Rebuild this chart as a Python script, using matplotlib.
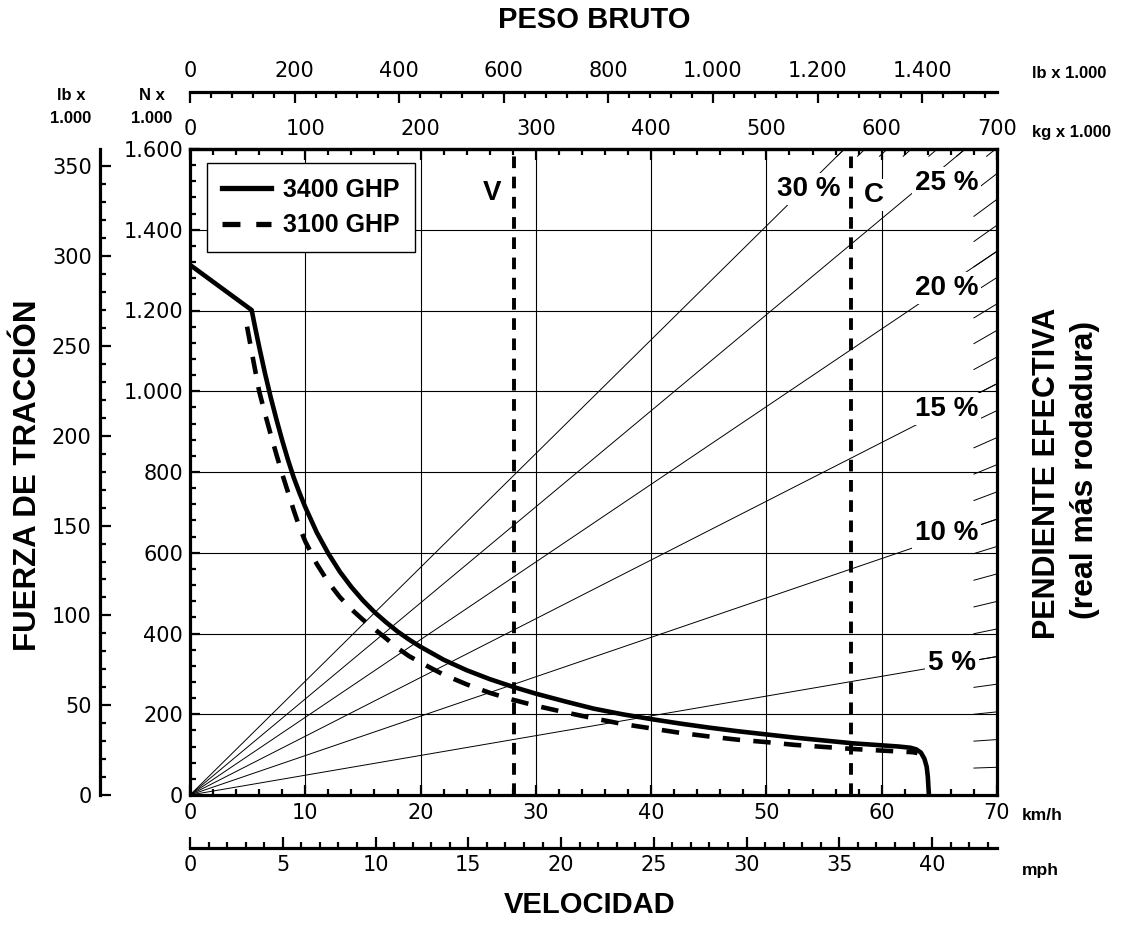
import numpy as np
import matplotlib
matplotlib.use("Agg")
import matplotlib.pyplot as plt
from matplotlib.ticker import FixedLocator, FuncFormatter
from matplotlib.lines import Line2D

plt.rcParams['font.family'] = ['DejaVu Sans']
NEGRITA = ['Liberation Sans', 'DejaVu Sans']

# Curva 3400 GHP: velocidad (km/h) y fuerza de traccion (kN)
vel_3400 = [0, 5.35, 5.6, 6.0, 6.5, 7.0, 7.5, 8.0, 8.5, 9.0, 9.5, 10.0,
            11.0, 12.0, 13.0, 14.0, 15.0, 16.0, 17.0, 18.0, 19.0, 20.0,
            22.0, 24.0, 26.0, 28.0, 30.0, 32.5, 35.0, 37.5, 40.0, 42.5,
            45.0, 47.5, 50.0, 52.5, 55.0, 57.5, 60.0, 61.5, 62.5, 63.0,
            63.4, 63.7, 63.9, 64.0, 64.05, 64.1]
fuerza_3400 = [1313, 1201, 1165, 1110, 1045, 985, 930, 878, 830, 786, 748, 713,
               650, 598, 553, 515, 482, 453, 428, 405, 385, 367,
               335, 309, 287, 268, 251, 232, 214, 200, 188, 177,
               167, 158, 150, 142, 135, 128, 123, 120, 117, 113,
               105, 90, 70, 45, 20, 0]

# Curva 3100 GHP
vel_3100 = [4.95, 5.5, 6.0, 6.5, 7.0, 7.5, 8.0, 8.5, 9.0, 9.5, 10.0,
            11.0, 12.0, 13.0, 14.0, 15.0, 16.0, 17.0, 18.0, 19.0, 20.0,
            22.0, 24.0, 26.0, 28.0, 30.0, 32.5, 35.0, 37.5, 40.0, 42.5,
            45.0, 47.5, 50.0, 52.5, 55.0, 57.5, 60.0, 62.7, 63.1]
fuerza_3100 = [1160, 1075, 1000, 945, 893, 843, 795, 750, 705, 663, 628,
               572, 527, 490, 460, 434, 411, 388, 364, 344, 328,
               298, 274, 253, 236, 221, 205, 190, 176, 165, 154,
               145, 137, 131, 124, 119, 114, 110, 106, 104]

# Pendientes (%)
pendientes_linea = [5, 10, 15, 20, 25, 30]
pendientes_marca = list(range(1, 31))
# posicion de las etiquetas (km/h, kN)
etiq_pend_x = [66.1, 65.6, 65.6, 65.6, 65.6, 53.7]
etiq_pend_y = [327, 649, 956, 1256, 1516, 1501]

# Peso bruto vacio (V) y cargado (C), toneladas
peso_v = 281
peso_c = 573

# marcas de los ejes secundarios
marcas_lb_fuerza = [0, 50, 100, 150, 200, 250, 300, 350]
marcas_kg = [0, 100, 200, 300, 400, 500, 600, 700]
marcas_lb_peso = [0, 200, 400, 600, 800, 1000, 1200, 1400]
marcas_mph = [0, 5, 10, 15, 20, 25, 30, 35, 40]

W, H = 1129, 935
fig = plt.figure(figsize=(W / 100, H / 100), dpi=100)
ax = fig.add_axes([190 / W, 1 - 795 / H, 807 / W, 646 / H])
ax.set_xlim(0, 70)
ax.set_ylim(0, 1600)

miles = FuncFormatter(lambda v, p: f"{v:,.0f}".replace(",", "."))
TL = 15

# ejes principales
ax.xaxis.set_major_locator(FixedLocator(np.arange(0, 71, 10)))
ax.xaxis.set_minor_locator(FixedLocator(np.arange(0, 71, 2)))
ax.yaxis.set_major_locator(FixedLocator(np.arange(0, 1601, 200)))
ax.yaxis.set_minor_locator(FixedLocator(np.arange(0, 1601, 40)))
ax.yaxis.set_major_formatter(miles)
ax.tick_params(which='both', direction='in', top=False, right=False,
               width=1.6, labelsize=TL)
ax.tick_params(which='major', length=7)
ax.tick_params(which='minor', length=4)
ax.tick_params(axis='x', pad=6)
ax.tick_params(axis='y', pad=5)
for s in ax.spines.values():
    s.set_linewidth(2.3)
ax.grid(True, which='major', color='black', lw=0.8)
ax.set_axisbelow(True)

# eje secundario lb x 1000
sec_lb = ax.secondary_yaxis(-90 / 807, functions=(lambda v: v / 4.44822,
                                                   lambda v: v * 4.44822))
sec_lb.yaxis.set_major_locator(FixedLocator(marcas_lb_fuerza))
sec_lb.yaxis.set_minor_locator(FixedLocator(np.arange(0, 360, 10)))

# eje superior kg x 1000
sec_kg = ax.secondary_xaxis('top', functions=(lambda v: v * 10, lambda v: v / 10))
sec_kg.xaxis.set_major_locator(FixedLocator(marcas_kg))
sec_kg.xaxis.set_minor_locator(FixedLocator(np.arange(0, 701, 20)))

# eje superior lb x 1000
sec_lbw = ax.secondary_xaxis(1 + (795 - 92 - 646) / 646,
                             functions=(lambda v: v * 10 * 2.20462,
                                        lambda v: v / 10 / 2.20462))
sec_lbw.xaxis.set_major_locator(FixedLocator(marcas_lb_peso))
sec_lbw.xaxis.set_minor_locator(FixedLocator(np.arange(0, 1541, 40)))
sec_lbw.xaxis.set_major_formatter(miles)

# eje inferior mph
sec_mph = ax.secondary_xaxis(-(848 - 795) / 646,
                             functions=(lambda v: v / 1.609344,
                                        lambda v: v * 1.609344))
sec_mph.xaxis.set_major_locator(FixedLocator(marcas_mph))
sec_mph.xaxis.set_minor_locator(FixedLocator(np.arange(0, 44, 1)))

for sa in (sec_lb, sec_kg, sec_lbw, sec_mph):
    sa.tick_params(which='both', direction='in', width=1.6, labelsize=TL)
    sa.tick_params(which='major', length=8)
    sa.tick_params(which='minor', length=4)
    for s in sa.spines.values():
        s.set_linewidth(2.3)
sec_lb.tick_params(pad=6)
sec_kg.tick_params(pad=7)
sec_lbw.tick_params(pad=8)
sec_mph.tick_params(pad=5)

# lineas de pendiente efectiva: F = m g sen(atan(p))
G = 9.81
for p in pendientes_linea:
    k = G * np.sin(np.arctan(p / 100))  # kN por tonelada
    w_fin = min(700, 1600 / k)
    ax.plot([0, w_fin / 10], [0, k * w_fin], color='black', lw=0.7, zorder=2)
for p in pendientes_marca:
    k = G * np.sin(np.arctan(p / 100))
    if k * 700 < 1600:
        ws = np.array([680, 700])
    else:
        ws = np.array([1582 / k, 1600 / k])
    ax.plot(ws / 10, k * ws, color='black', lw=0.7, zorder=2)

# lineas V y C
for w in (peso_v, peso_c):
    ax.axvline(w / 10, color='black', lw=2.8, ls=(0, (3.0, 2.2)), zorder=3)

# curvas
ax.plot(vel_3400, fuerza_3400, color='black', lw=3.3, solid_capstyle='butt',
        solid_joinstyle='round', zorder=5)
ax.plot(vel_3100, fuerza_3100, color='black', lw=3.3, ls=(0, (3.8, 2.9)),
        zorder=5)

caja = dict(facecolor='white', edgecolor='none', pad=2)
for p, x, y in zip(pendientes_linea, etiq_pend_x, etiq_pend_y):
    ax.text(x, y, f"{p} %", ha='center', va='center', fontsize=20,
            fontweight='bold', family=NEGRITA, bbox=caja, zorder=4)
ax.text(26.2, 1491, 'V', ha='center', va='center', fontsize=20,
        fontweight='bold', family=NEGRITA, bbox=caja, zorder=4)
ax.text(59.3, 1486, 'C', ha='center', va='center', fontsize=20,
        fontweight='bold', family=NEGRITA, bbox=caja, zorder=4)

# leyenda
h1 = Line2D([], [], color='black', lw=3.8)
h2 = Line2D([], [], color='black', lw=3.8, ls=(0, (3.4, 3.0)))
leg = ax.legend([h1, h2], ['3400 GHP', '3100 GHP'], loc='upper left',
                bbox_to_anchor=(207 / W, 1 - 163 / H),
                bbox_transform=fig.transFigure, borderaxespad=0,
                prop={'family': NEGRITA, 'weight': 'bold', 'size': 18},
                handlelength=1.95, handletextpad=0.5, labelspacing=0.45,
                borderpad=0.6, fancybox=False, framealpha=1, edgecolor='black')
leg.get_frame().set_linewidth(1.0)
leg.set_zorder(10)


def ftexto(x, y, s, **kw):
    fig.text(x / W, 1 - y / H, s, family=NEGRITA, fontweight='bold', **kw)


ftexto(594, 20, 'PESO BRUTO', fontsize=21, ha='center', va='center')
ftexto(590, 905, 'VELOCIDAD', fontsize=21, ha='center', va='center')
ftexto(28, 475, 'FUERZA DE TRACCIÓN', fontsize=22.5, ha='center', va='center',
       rotation=90)
ftexto(1047, 473, 'PENDIENTE EFECTIVA', fontsize=22, ha='center', va='center',
       rotation=90)
ftexto(1085, 470, '(real más rodadura)', fontsize=23, ha='center', va='center',
       rotation=90)
ftexto(71, 107, 'lb x\n1.000', fontsize=12, ha='center', va='center',
       linespacing=1.6)
ftexto(152, 107, 'N x\n1.000', fontsize=12, ha='center', va='center',
       linespacing=1.6)
ftexto(1032, 73, 'lb x 1.000', fontsize=12, ha='left', va='center')
ftexto(1032, 133, 'kg x 1.000', fontsize=12, ha='left', va='center')
ftexto(1022, 815, 'km/h', fontsize=12.5, ha='left', va='center')
ftexto(1022, 870, 'mph', fontsize=12.5, ha='left', va='center')

fig.savefig('out.png', dpi=100)
